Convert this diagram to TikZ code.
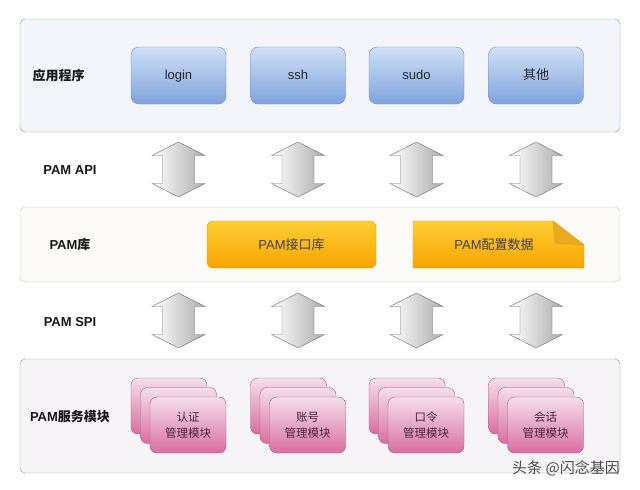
\documentclass[tikz,border=0pt]{standalone}
\usepackage{fontspec}
\setmainfont{Liberation Sans}
\newfontfamily\cjk{Noto Sans CJK SC}
\usetikzlibrary{calc}

\definecolor{appfill}{HTML}{F3F5FA}
\definecolor{libfill}{HTML}{FBFAF6}
\definecolor{svcfill}{HTML}{F7F4F8}
\definecolor{paneledge}{HTML}{8E9199}
\definecolor{blueT}{HTML}{CFDFF6}
\definecolor{blueB}{HTML}{7FA3DD}
\definecolor{blueE}{HTML}{6C8AC2}
\definecolor{orangeT}{HTML}{FFCD35}
\definecolor{orangeB}{HTML}{F6A500}
\definecolor{orangeE}{HTML}{E3A000}
\definecolor{foldC}{HTML}{EBA820}
\definecolor{pinkT}{HTML}{F5DEEA}
\definecolor{pinkB}{HTML}{D96EA0}
\definecolor{pinkE}{HTML}{9B5A80}
\definecolor{pinktext}{HTML}{4A2440}

\tikzset{updown/.pic={
\shadedraw[draw=gray!85!black, left color=white, right color=gray!65]
(0,-27.5)--(26.5,-14)--(16,-14)--(16,14)--(26.5,14)--(0,27.5)
--(-26.5,14)--(-16,14)--(-16,-14)--(-26.5,-14)--cycle;
}}

\begin{document}
\begin{tikzpicture}[x=1pt, y=-1pt,
panel/.style={draw=paneledge, rounded corners=5pt, minimum width=600pt, fill=#1},
appbox/.style={draw=blueE, rounded corners=8pt, minimum width=95pt, minimum height=57pt,
  top color=blueT, bottom color=blueB, font=\fontsize{13}{15}\selectfont, text=black!85,
  text height=9.5pt, text depth=2.5pt},
card/.style={draw=pinkE, rounded corners=7pt, minimum width=76pt, minimum height=56pt,
  top color=pinkT, bottom color=pinkB, align=center, text=pinktext,
  font=\fontsize{11.5}{16}\selectfont\cjk},
layer/.style={font=\fontsize{13}{15}\selectfont\bfseries, text=black!90}]
\fill[white] (0,0) rectangle (640,490);
\useasboundingbox (0,0) rectangle (640,490);

\node[panel=appfill, minimum height=113pt] (app) at (320,75.5) {};
\node[panel=libfill, draw=paneledge!55, minimum height=75pt] (lib) at (320,244.5) {};
\node[panel=svcfill, minimum height=114pt] (svc) at (320,416) {};

\path
(58.5,76) node[layer] (appname) {\cjk 应用程序};
\path
(70,170) node[layer] (apiname) {PAM API};
\path
(70,245) node[layer] (libname) {PAM{\cjk 库}};
\path
(70,322) node[layer] (spiname) {PAM SPI};
\path
(70,417) node[layer] (svcname) {PAM{\cjk 服务模块}};

\node[appbox] (login) at (178.5,75.5) {login};
\node[appbox] (ssh) at (298,75.5) {ssh};
\node[appbox] (sudo) at (416.5,75.5) {sudo};
\node[appbox] (other) at (536,75.5) {\cjk 其他};

\pic (api1) at ($(login |- app.south)!0.5!(login |- lib.north)$) {updown};
\pic (api2) at ($(ssh |- app.south)!0.5!(ssh |- lib.north)$) {updown};
\pic (api3) at ($(sudo |- app.south)!0.5!(sudo |- lib.north)$) {updown};
\pic (api4) at ($(other |- app.south)!0.5!(other |- lib.north)$) {updown};

\node[draw=orangeE, rounded corners=6pt, minimum width=169pt, minimum height=47pt,
  top color=orangeT, bottom color=orangeB, font=\fontsize{13}{15}\selectfont, text=black!75]
  (iface) at (291.5,244.5) {PAM{\cjk 接口库}};
\shadedraw[draw=orangeE, top color=orangeT, bottom color=orangeB]
(413,221)--(553,221)--(584,245)--(584,268)--(413,268)--cycle;
\filldraw[draw=orangeE, fill=foldC] (553,221)--(555,243)--(584,245)--cycle;
\node[font=\fontsize{13}{15}\selectfont, text=black!75] (conf) at (494,244.5) {PAM{\cjk 配置数据}};

\pic (spi1) at ($(login |- lib.south)!0.5!(login |- svc.north)$) {updown};
\pic (spi2) at ($(ssh |- lib.south)!0.5!(ssh |- svc.north)$) {updown};
\pic (spi3) at ($(sudo |- lib.south)!0.5!(sudo |- svc.north)$) {updown};
\pic (spi4) at ($(other |- lib.south)!0.5!(other |- svc.north)$) {updown};

\node[card] (auth3) at (169,406) {};
\node[card] (auth2) at (178.5,415.5) {};
\node[card] (auth1) at (188,425) {认证\\管理模块};
\node[card] (acct3) at (288.5,406) {};
\node[card] (acct2) at (298,415.5) {};
\node[card] (acct1) at (307.5,425) {账号\\管理模块};
\node[card] (pass3) at (407,406) {};
\node[card] (pass2) at (416.5,415.5) {};
\node[card] (pass1) at (426,425) {口令\\管理模块};
\node[card] (sess3) at (526.5,406) {};
\node[card] (sess2) at (536,415.5) {};
\node[card] (sess1) at (545.5,425) {会话\\管理模块};

\node[font=\fontsize{15}{17}\selectfont\cjk, text=black!70] (mark) at (566,468) {头条 @闪念基因};
\end{tikzpicture}
\end{document}
